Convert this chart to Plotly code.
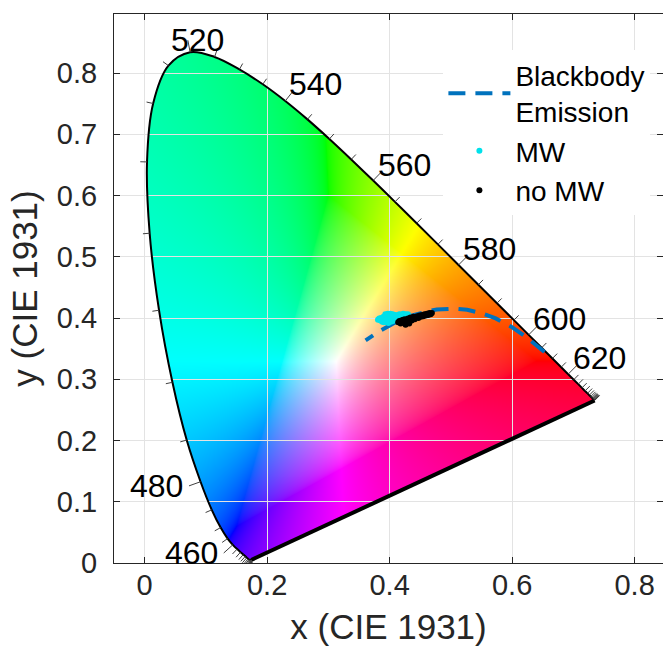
import base64, struct, zlib
import numpy as np
import plotly.graph_objects as go

# ---------------- data ----------------
wavelengths = [380, 385, 390, 395, 400, 405, 410, 415, 420, 425, 430, 435, 440, 445, 450,
               455, 460, 465, 470, 475, 480, 485, 490, 495, 500, 505, 510, 515, 520, 525,
               530, 535, 540, 545, 550, 555, 560, 565, 570, 575, 580, 585, 590, 595, 600,
               605, 610, 615, 620, 625, 630, 635, 640, 645, 650, 655, 660, 665, 670, 675,
               680, 685, 690, 695, 700]
locus_x = [0.1741, 0.1740, 0.1738, 0.1736, 0.1733, 0.1730, 0.1726, 0.1721, 0.1714, 0.1703,
           0.1689, 0.1669, 0.1644, 0.1611, 0.1566, 0.1510, 0.1440, 0.1355, 0.1241, 0.1096,
           0.0913, 0.0687, 0.0454, 0.0235, 0.0082, 0.0039, 0.0139, 0.0389, 0.0743, 0.1142,
           0.1547, 0.1929, 0.2296, 0.2658, 0.3016, 0.3373, 0.3731, 0.4087, 0.4441, 0.4788,
           0.5125, 0.5448, 0.5752, 0.6029, 0.6270, 0.6482, 0.6658, 0.6801, 0.6915, 0.7006,
           0.7079, 0.7140, 0.7190, 0.7230, 0.7260, 0.7283, 0.7300, 0.7311, 0.7320, 0.7327,
           0.7334, 0.7340, 0.7344, 0.7346, 0.7347]
locus_y = [0.0050, 0.0050, 0.0049, 0.0049, 0.0048, 0.0048, 0.0048, 0.0048, 0.0051, 0.0058,
           0.0069, 0.0086, 0.0109, 0.0138, 0.0177, 0.0227, 0.0297, 0.0399, 0.0578, 0.0868,
           0.1327, 0.2007, 0.2950, 0.4127, 0.5384, 0.6548, 0.7502, 0.8120, 0.8338, 0.8262,
           0.8059, 0.7816, 0.7543, 0.7243, 0.6923, 0.6589, 0.6245, 0.5896, 0.5547, 0.5202,
           0.4866, 0.4544, 0.4242, 0.3965, 0.3725, 0.3514, 0.3340, 0.3197, 0.3083, 0.2993,
           0.2920, 0.2859, 0.2809, 0.2770, 0.2740, 0.2717, 0.2700, 0.2689, 0.2680, 0.2673,
           0.2666, 0.2660, 0.2656, 0.2654, 0.2653]
label_wavelengths = [460, 480, 520, 540, 560, 580, 600, 620]

bb_temps = [1000, 1200, 1400, 1500, 1600, 1800, 2000, 2200, 2400, 2500, 2600, 2800,
            3000, 3200, 3500, 4000, 4500]
bb_x = [0.6528, 0.6250, 0.5985, 0.5857, 0.5732, 0.5492, 0.5267, 0.5056, 0.4862, 0.4770,
        0.4682, 0.4519, 0.4369, 0.4234, 0.4053, 0.3805, 0.3608]
bb_y = [0.3444, 0.3674, 0.3858, 0.3931, 0.3993, 0.4082, 0.4133, 0.4152, 0.4147, 0.4137,
        0.4123, 0.4086, 0.4041, 0.3990, 0.3907, 0.3768, 0.3635]

mw_x = [0.381, 0.383, 0.385, 0.386, 0.388, 0.389, 0.390, 0.391, 0.392, 0.393, 0.394, 0.395,
        0.396, 0.397, 0.398, 0.399, 0.400, 0.401, 0.402, 0.403, 0.404, 0.405, 0.406, 0.407,
        0.408, 0.409, 0.410, 0.412, 0.414, 0.416, 0.418, 0.420, 0.422, 0.424, 0.426, 0.428,
        0.430, 0.393, 0.397, 0.401, 0.405]
mw_y = [0.397, 0.399, 0.396, 0.400, 0.394, 0.398, 0.402, 0.393, 0.397, 0.400, 0.404, 0.394,
        0.398, 0.402, 0.392, 0.396, 0.400, 0.404, 0.394, 0.398, 0.402, 0.395, 0.399, 0.403,
        0.397, 0.401, 0.405, 0.399, 0.403, 0.406, 0.402, 0.405, 0.407, 0.404, 0.406, 0.405,
        0.406, 0.406, 0.407, 0.407, 0.406]
nomw_x = [0.414, 0.416, 0.418, 0.419, 0.421, 0.422, 0.424, 0.425, 0.427, 0.428, 0.430, 0.431,
          0.433, 0.434, 0.436, 0.437, 0.439, 0.441, 0.443, 0.445, 0.447, 0.449, 0.451, 0.453,
          0.455, 0.457, 0.459, 0.461, 0.463, 0.465, 0.467, 0.469, 0.426, 0.432]
nomw_y = [0.393, 0.395, 0.391, 0.396, 0.393, 0.397, 0.394, 0.398, 0.392, 0.396, 0.399, 0.394,
          0.397, 0.401, 0.396, 0.399, 0.402, 0.398, 0.401, 0.403, 0.400, 0.404, 0.402, 0.405,
          0.403, 0.406, 0.404, 0.407, 0.405, 0.408, 0.406, 0.408, 0.389, 0.391]

# ---------------- axes geometry ----------------
PX = 612.5  # pixels per unit (equal aspect)
X0, X1 = -0.05, -0.05 + 549 / PX
Y0, Y1 = 0.0, 549 / PX

lx = np.array(locus_x)
ly = np.array(locus_y)
n = len(lx)


# same spline construction as plotly's line.shape='spline' (smoothing 1)
def plotly_spline(xv, yv, smooth=1.0, per=10):
    pts = np.column_stack([xv, yv]).astype(float)
    m = len(pts)
    tang = []
    for i in range(1, m - 1):
        p0, p1, p2 = pts[i - 1], pts[i], pts[i + 1]
        d1 = p0 - p1
        d2 = p2 - p1
        d1a = (d1 @ d1) ** 0.25
        d2a = (d2 @ d2) ** 0.25
        num = (d2a * d2a * d1 - d1a * d1a * d2) * smooth
        den1 = 3 * d2a * (d1a + d2a)
        den2 = 3 * d1a * (d1a + d2a)
        t0 = p1 + (num / den1 if den1 else 0)
        t1 = p1 - (num / den2 if den2 else 0)
        tang.append((t0, t1))
    t = np.linspace(0, 1, per + 1)[1:][:, None]

    def quad(a, b, c):
        return (1 - t) ** 2 * a + 2 * (1 - t) * t * b + t ** 2 * c

    def cub(a, b, c, d):
        return (1 - t) ** 3 * a + 3 * (1 - t) ** 2 * t * b + 3 * (1 - t) * t ** 2 * c + t ** 3 * d
    out = [pts[:1], quad(pts[0], tang[0][0], pts[1])]
    for i in range(2, m - 1):
        out.append(cub(pts[i - 1], tang[i - 2][1], tang[i - 1][0], pts[i]))
    out.append(quad(pts[m - 2], tang[m - 3][1], pts[m - 1]))
    return np.vstack(out)


poly = plotly_spline(lx, ly)
qx, qy = poly[:, 0], poly[:, 1]
nq = len(qx)

# ---------------- colour fill raster ----------------
img_x0, img_x1 = 0.0, 0.75
img_y0, img_y1 = 0.0, 0.85
W = int(round((img_x1 - img_x0) * PX))
H = int(round((img_y1 - img_y0) * PX))
xs = img_x0 + (np.arange(W) + 0.5) * (img_x1 - img_x0) / W
ys = img_y1 - (np.arange(H) + 0.5) * (img_y1 - img_y0) / H
gx, gy = np.meshgrid(xs, ys)
inside = np.zeros(gx.shape, bool)
for i in range(nq):
    xa, ya, xb, yb = qx[i], qy[i], qx[(i + 1) % nq], qy[(i + 1) % nq]
    if ya == yb:
        continue
    cond = (ya > gy) != (yb > gy)
    xint = xa + (gy - ya) * (xb - xa) / (yb - ya)
    inside ^= cond & (gx < xint)

Xc = gx / gy
Zc = (1 - gx - gy) / gy
M = np.array([[3.2406, -1.5372, -0.4986],
              [-0.9689, 1.8758, 0.0415],
              [0.0557, -0.2040, 1.0570]])
rgb = np.stack([M[k, 0] * Xc + M[k, 1] + M[k, 2] * Zc for k in range(3)], axis=-1)
mn = np.minimum(rgb.min(axis=-1, keepdims=True), 0)
rgb = rgb - mn
mx = rgb.max(axis=-1, keepdims=True)
mx[mx == 0] = 1
rgb = np.clip(rgb / mx, 0, 1)
rgb = np.power(rgb, 1 / 1.7)
rgba = np.zeros((H, W, 4), np.uint8)
rgba[..., :3] = np.clip(rgb * 255, 0, 255).astype(np.uint8)
rgba[..., 3] = inside.astype(np.uint8) * 255


def png_bytes(arr):
    h, w, _ = arr.shape
    raw = b''.join(b'\x00' + arr[r].tobytes() for r in range(h))

    def chunk(tag, d):
        c = struct.pack('>I', len(d)) + tag + d
        return c + struct.pack('>I', zlib.crc32(tag + d) & 0xffffffff)
    return (b'\x89PNG\r\n\x1a\n' + chunk(b'IHDR', struct.pack('>IIBBBBB', w, h, 8, 6, 0, 0, 0))
            + chunk(b'IDAT', zlib.compress(raw, 9)) + chunk(b'IEND', b''))


img_src = 'data:image/png;base64,' + base64.b64encode(png_bytes(rgba)).decode()

# ---------------- figure ----------------
fig = go.Figure()

fig.add_trace(go.Scatter(x=locus_x, y=locus_y, mode='lines',
                         line=dict(color='black', width=2, shape='spline'),
                         showlegend=False, hoverinfo='skip'))
fig.add_trace(go.Scatter(x=[locus_x[0], locus_x[-1]], y=[locus_y[0], locus_y[-1]], mode='lines',
                         line=dict(color='black', width=4), showlegend=False, hoverinfo='skip'))

tick_x, tick_y = [], []
annotations = []
for i, wl in enumerate(wavelengths):
    a, b = max(i - 1, 0), min(i + 1, n - 1)
    tv = np.array([lx[b] - lx[a], ly[b] - ly[a]])
    tv = tv / np.linalg.norm(tv)
    nv = np.array([tv[1], -tv[0]])
    if np.dot(nv, [lx[i] - 0.33, ly[i] - 0.33]) < 0:
        nv = -nv
    L = 0.02 if wl in label_wavelengths else 0.011
    ex, ey = lx[i] + nv[0] * L, ly[i] + nv[1] * L
    tick_x += [lx[i], ex, None]
    tick_y += [ly[i], ey, None]
    if wl in label_wavelengths:
        if nv[0] > 0.3:
            xa, xs_, ys_ = 'left', -6, 7
        elif nv[0] < -0.3:
            xa, xs_, ys_ = 'right', -4, 0
        else:
            xa, xs_, ys_ = 'center', 10, 0
        annotations.append(dict(x=ex, y=ey, xref='x', yref='y', text=str(wl), showarrow=False,
                                xanchor=xa, yanchor='middle', xshift=xs_, yshift=ys_,
                                font=dict(size=32, color='black')))

fig.add_trace(go.Scatter(x=tick_x, y=tick_y, mode='lines', line=dict(color='#404040', width=1),
                         showlegend=False, hoverinfo='skip'))

fig.add_trace(go.Scatter(x=bb_x, y=bb_y, mode='lines', name='Blackbody<br>Emission',
                         line=dict(color='#0072BD', width=4, dash='17px,10px')))
fig.add_trace(go.Scatter(x=mw_x, y=mw_y, mode='markers', name='MW',
                         marker=dict(color='rgb(0,225,235)', size=6)))
fig.add_trace(go.Scatter(x=nomw_x, y=nomw_y, mode='markers', name='no MW',
                         marker=dict(color='black', size=6)))

fig.update_layout(
    width=663, height=652,
    margin=dict(l=114, r=0, t=14, b=89),
    plot_bgcolor='white', paper_bgcolor='white',
    font=dict(family='Liberation Sans, Arial, sans-serif', size=29, color='#262626'),
    images=[dict(source=img_src, xref='x', yref='y', x=img_x0, y=img_y1,
                 sizex=img_x1 - img_x0, sizey=img_y1 - img_y0, sizing='stretch',
                 xanchor='left', yanchor='top', layer='below')],
    annotations=annotations,
    legend=dict(x=0.60, y=0.934, xanchor='left', yanchor='top', bgcolor='white',
                font=dict(size=28, color='black'), tracegroupgap=0, itemwidth=62),
)
fig.update_xaxes(range=[X0, X1], tick0=0, dtick=0.2, showgrid=True, gridcolor='#e3e3e3',
                 showline=True, linecolor='#262626', linewidth=1, mirror='ticks',
                 ticks='inside', ticklen=6, tickcolor='#262626', zeroline=False,
                 ticklabelstandoff=-4,
                 title=dict(text='x (CIE 1931)', font=dict(size=35), standoff=14))
fig.update_yaxes(range=[Y0, Y1], tick0=0, dtick=0.1, showgrid=True, gridcolor='#e3e3e3',
                 showline=True, linecolor='#262626', linewidth=1, mirror='ticks',
                 ticks='inside', ticklen=6, tickcolor='#262626', zeroline=False,
                 ticklabelstandoff=10,
                 title=dict(text='y (CIE 1931)', font=dict(size=35), standoff=8))

fig.write_html('out.html')
